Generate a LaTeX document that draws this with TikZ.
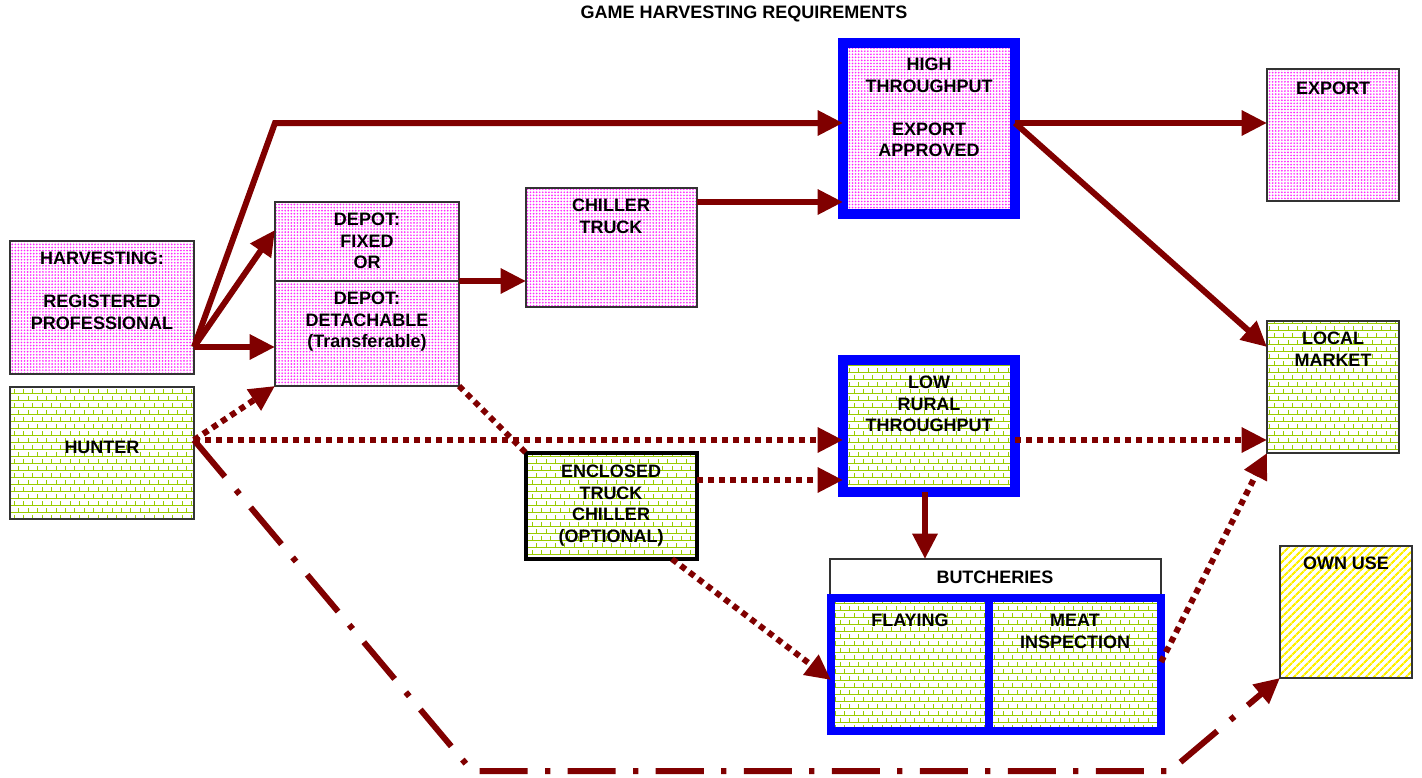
\documentclass[tikz,border=0pt]{standalone}
\usepackage{fontspec}
\setmainfont{Liberation Sans}
\usetikzlibrary{arrows.meta,patterns,patterns.meta,fit}
\definecolor{dred}{RGB}{128,0,0}
\definecolor{bblue}{RGB}{0,0,255}
\definecolor{grn}{RGB}{153,204,0}
\definecolor{pnk}{RGB}{255,0,255}
\definecolor{ylw}{RGB}{255,240,0}
\tikzdeclarepattern{
  name=smallbricks,
  type=uncolored,
  bottom left={(-0.5pt,-0.5pt)},
  top right={(7.5pt,11pt)},
  tile size={(7pt,10.5pt)},
  code={
    \draw[line width=0.6pt] (-0.5pt,0pt) -- (7.5pt,0pt) (-0.5pt,5.25pt) -- (7.5pt,5.25pt)
      (0pt,0pt) -- (0pt,2.8pt) (3.5pt,5.25pt) -- (3.5pt,8.05pt);
  }
}
\tikzset{
  box/.style={draw=black!80, line width=1.1pt, inner sep=0pt, outer sep=0pt},
  bluebox/.style={draw=bblue, line width=8pt, inner sep=0pt, outer sep=0pt},
  pinkfill/.style={pattern={Dots[distance=2.3pt,radius=0.7pt]}, pattern color=pnk!85},
  brickfill/.style={pattern=smallbricks, pattern color=grn},
  hatchfill/.style={pattern={Lines[angle=45,distance=4pt,line width=1.7pt]}, pattern color=ylw},
  txt/.style={font=\fontsize{13.5}{16.1}\selectfont\bfseries, align=center, inner sep=0pt, text=black},
  conn/.style={draw=dred, line width=4.5pt},
  arr/.style={conn, -{Triangle[length=19pt,width=18pt]}},
  dots/.style={dash pattern=on 4.5pt off 3.75pt},
  dashdot/.style={dash pattern=on 36pt off 13pt on 4pt off 13pt},
}
\begin{document}
\begin{tikzpicture}[x=0.75pt,y=-0.75pt]
\useasboundingbox (0,0) rectangle (1422,778);
\fill[white] (0,0) rectangle (1422,778);

% title
\node[txt] (title) at (744,14) {GAME HARVESTING REQUIREMENTS};

% boxes
\node[box, pinkfill, fit={(10,241)(194,374)}] (harv) {};
\node[box, brickfill, fit={(10,387)(194,519)}] (hunter) {};
\node[box, pinkfill, fit={(275,202)(459,281)}] (depA) {};
\node[box, pinkfill, fit={(275,281)(459,386)}] (depB) {};
\node[box, pinkfill, fit={(526,188)(697,307)}] (chill) {};
\node[bluebox, pinkfill, fit={(843,43)(1015,214)}] (high) {};
\node[box, pinkfill, fit={(1267,69)(1399,201)}] (export) {};
\node[box, brickfill, fit={(1267,321)(1399,453)}] (local) {};
\node[bluebox, brickfill, fit={(843,360)(1015,492)}] (low) {};
\node[box, brickfill, draw=black, line width=3pt, fit={(526,453)(697,559)}] (encl) {};
\node[box, fit={(830,559)(1161,597)}] (butch) {};
\node[draw=bblue, line width=6pt, inner sep=0pt, outer sep=0pt, brickfill, fit={(831,598)(989,731)}] (flay) {};
\node[draw=bblue, line width=6pt, inner sep=0pt, outer sep=0pt, brickfill, fit={(989,598)(1161,731)}] (meat) {};
\node[box, hatchfill, fit={(1280,546)(1412,678)}] (own) {};

% texts
\node[txt, anchor=north] (harvT) at (102,252) {HARVESTING:\\[16.1pt]REGISTERED\\PROFESSIONAL};
\node[txt] (hunterT) at (102,447) {HUNTER};
\node[txt, anchor=north] (depAT) at (367,213) {DEPOT:\\FIXED\\OR};
\node[txt, anchor=north] (depBT) at (367,292) {DEPOT:\\DETACHABLE\\(Transferable)};
\node[txt, anchor=north] (chillT) at (611,199) {CHILLER\\TRUCK};
\node[txt, anchor=north] (highT) at (929,58) {HIGH\\THROUGHPUT\\[16.1pt]EXPORT\\APPROVED};
\node[txt, anchor=north] (exportT) at (1333,82) {EXPORT};
\node[txt, anchor=north] (localT) at (1333,332) {LOCAL\\MARKET};
\node[txt, anchor=north] (lowT) at (929,376) {LOW\\RURAL\\THROUGHPUT};
\node[txt, anchor=north] (enclT) at (611,465) {ENCLOSED\\TRUCK\\CHILLER\\(OPTIONAL)};
\node[txt] (butchT) at (995,577) {BUTCHERIES};
\node[txt, anchor=north] (flayT) at (910,614) {FLAYING};
\node[txt, anchor=north] (meatT) at (1075,614) {MEAT\\INSPECTION};
\node[txt, anchor=north] (ownT) at (1346,557) {OWN USE};

% ports
\coordinate (hvo) at (194,347);
\coordinate (bend1) at (275,123);
\coordinate (highIn1) at (843,123);
\coordinate (depAin) at (275,230);
\coordinate (depBin) at (275,347);
\coordinate (chillIn) at (526,281);
\coordinate (chillOut) at (697,202);
\coordinate (highIn2) at (843,202);
\coordinate (highOut) at (1015,123);
\coordinate (exportIn) at (1267,123);
\coordinate (localIn1) at (1267,347);
\coordinate (hunOut) at (194,440);
\coordinate (lowIn1) at (843,440);
\coordinate (enclOut) at (697,480);
\coordinate (lowIn2) at (843,480);
\coordinate (enclOut2) at (672,559);
\coordinate (flayIn) at (831,680);
\coordinate (lowOut) at (1015,440);
\coordinate (localIn2) at (1267,440);
\coordinate (lowBot) at (925,492);
\coordinate (butchIn) at (925,559);
\coordinate (meatOut) at (1161,662);
\coordinate (bendA) at (472,771);
\coordinate (bendB) at (1170,771);
\coordinate (ownIn) at (1280,678);

% solid connectors
\draw[arr] (hvo) -- (bend1) -- (highIn1);
\draw[arr] (hvo) -- (depAin);
\draw[arr] (hvo) -- (depBin);
\draw[arr] (depA.south east) -- (chillIn);
\draw[arr] (chillOut) -- (highIn2);
\draw[arr] (highOut) -- (exportIn);
\draw[arr] (highOut) -- (localIn1);
\draw[arr] (lowBot) -- (butchIn);

% dotted connectors
\draw[arr, dots] (hunOut) -- (depB.south west);
\draw[arr, dots] (hunOut) -- (lowIn1);
\draw[conn, dots] (depB.south east) -- (encl.north west);
\draw[arr, dots] (enclOut) -- (lowIn2);
\draw[arr, dots] (enclOut2) -- (flayIn);
\draw[arr, dots] (lowOut) -- (localIn2);
\draw[arr, dots] (meatOut) -- (local.south west);

% dash-dot connector
\draw[arr, dashdot] (hunOut) -- (bendA) -- (bendB) -- (ownIn);
\end{tikzpicture}
\end{document}
